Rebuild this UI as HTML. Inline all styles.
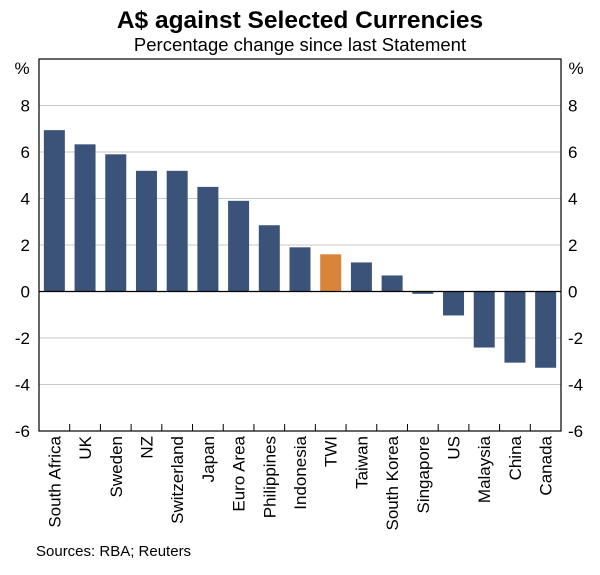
<!DOCTYPE html>
<html><head><meta charset="utf-8"><style>
body{margin:0;background:#fff;font-family:"Liberation Sans",Arial,sans-serif}
</style></head><body>
<svg id="chart" width="600" height="570" xmlns="http://www.w3.org/2000/svg" font-family="Liberation Sans, Arial, sans-serif">
<text x="300" y="28" text-anchor="middle" font-size="24.5" font-weight="bold">A$ against Selected Currencies</text>
<text x="300" y="51" text-anchor="middle" font-size="18.5">Percentage change since last Statement</text>
<text x="22" y="74" text-anchor="middle" font-size="17">%</text>
<text x="576" y="74" text-anchor="middle" font-size="17">%</text>
<g id="grid"></g><g id="bars"></g><g id="axes"></g>
<text x="36" y="556" font-size="15">Sources: RBA; Reuters</text>
</svg>
<script>
const categories=["South Africa","UK","Sweden","NZ","Switzerland","Japan","Euro Area","Philippines","Indonesia","TWI","Taiwan","South Korea","Singapore","US","Malaysia","China","Canada"];
const values=[6.94,6.33,5.9,5.19,5.19,4.5,3.9,2.85,1.9,1.6,1.25,0.69,-0.1,-1.03,-2.41,-3.06,-3.28];
const highlight=["TWI"];
const yTicks=[-6,-4,-2,0,2,4,6,8];
const NS="http://www.w3.org/2000/svg";
const L=39,R=561,T=59,B=431,yMin=-6,yMax=10;
const y=v=>B-(v-yMin)/(yMax-yMin)*(B-T);
const slot=(R-L)/categories.length;
const x=i=>L+i*slot;
function mk(tag,attrs,parent){const e=document.createElementNS(NS,tag);for(const k in attrs)e.setAttribute(k,attrs[k]);parent.appendChild(e);return e;}
const grid=document.getElementById('grid'),bars=document.getElementById('bars'),axes=document.getElementById('axes');
yTicks.forEach(t=>{
  if(t!==0&&t!==yMin){const g=mk('line',{x1:L,x2:R,y1:y(t),y2:y(t),stroke:'#c8c8c8','stroke-width':1},grid);
  
  }
  const a=mk('text',{x:L-9,y:y(t)+6,'text-anchor':'end','font-size':17},axes);a.textContent=t;
  
  
  const b=mk('text',{x:R+7,y:y(t)+6,'font-size':17},axes);b.textContent=t;
  
  
});
categories.forEach((c,i)=>{
  const v=values[i],bw=21,cx=x(i)+slot/2;
  const r=mk('rect',{x:cx-bw/2,y:Math.min(y(v),y(0)),width:bw,height:Math.abs(y(v)-y(0)),fill:highlight.includes(c)?'#d9843b':'#3b5378'},bars);
  
  
  const t=mk('text',{transform:`translate(${cx+6},436) rotate(-90)`,'text-anchor':'end','font-size':17},axes);t.textContent=c;
  
  
  if(i>0){const tk=mk('line',{x1:x(i),x2:x(i),y1:B,y2:B-7,stroke:'#000','stroke-width':1},axes);
  
  }
});
const z=mk('line',{x1:L,x2:R,y1:y(0),y2:y(0),stroke:'#000','stroke-width':1.2},axes);


const f=mk('rect',{x:L,y:T,width:R-L,height:B-T,fill:'none',stroke:'#000','stroke-width':1.2},axes);


</script>
</body></html>
